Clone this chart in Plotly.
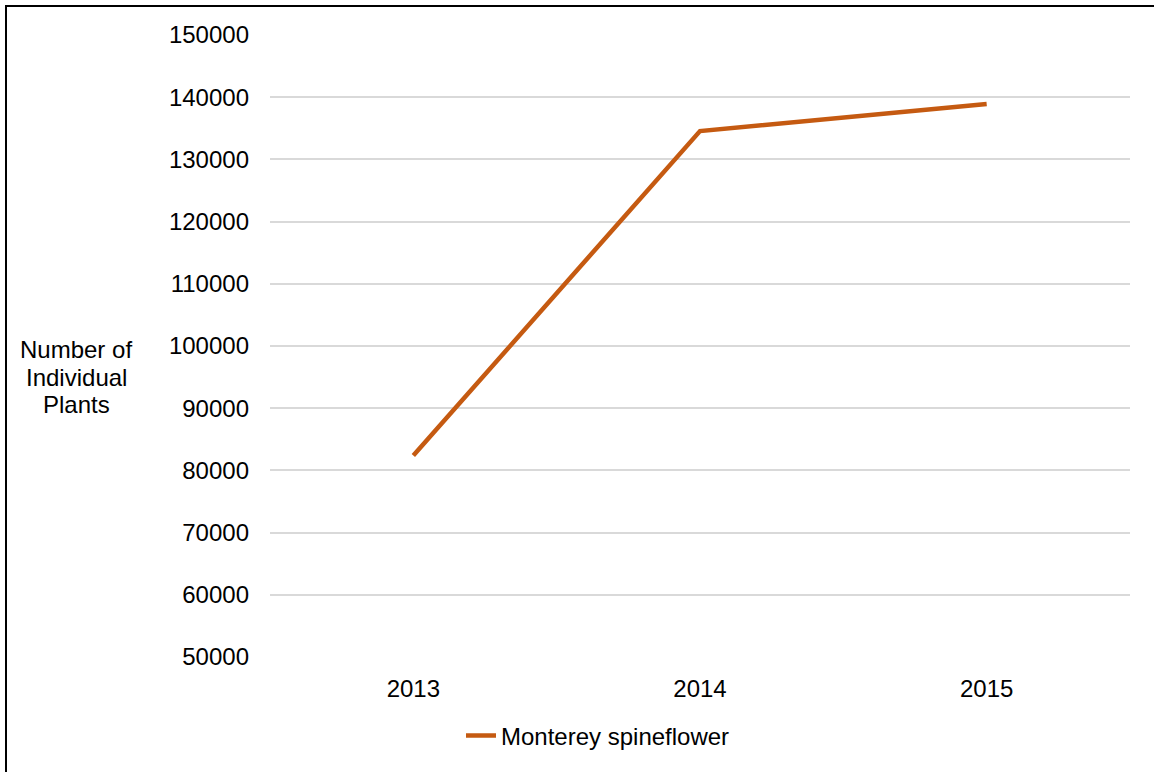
import plotly.graph_objects as go

years = ["2013", "2014", "2015"]
plants = [82400, 134560, 138900]
series_name = "Monterey spineflower"
y_ticks = [50000, 60000, 70000, 80000, 90000, 100000, 110000, 120000, 130000, 140000, 150000]
y_title_lines = ["Number of", "Individual", "Plants"]

W, H = 1154, 772
L, R, T, B = 270, 24, 35, 115
pw, ph = W - L - R, H - T - B

def px_x(x):
    return (x - L) / pw

def px_y(y):
    return (H - B - y) / ph

font = "Liberation Sans, Arial, sans-serif"
fs = 24

fig = go.Figure()
fig.add_trace(go.Scatter(
    x=years, y=plants, mode="lines", name=series_name,
    line=dict(color="#C55A11", width=4.5),
))

annotations = []
for i, txt in enumerate(y_title_lines):
    annotations.append(dict(
        text=txt, xref="paper", yref="paper",
        x=px_x(76), y=px_y(350 + 27.3 * i), xanchor="center", yanchor="middle",
        showarrow=False, align="center", font=dict(size=fs, family=font),
    ))

fig.update_layout(
    width=W, height=H,
    margin=dict(l=L, r=R, t=T, b=B),
    paper_bgcolor="white", plot_bgcolor="white",
    font=dict(family=font, size=fs, color="black"),
    showlegend=True,
    legend=dict(
        orientation="h", x=px_x(598), xanchor="center",
        y=px_y(736), yanchor="middle",
        font=dict(size=fs, family=font, color="black"),
        bgcolor="rgba(0,0,0,0)",
    ),
    xaxis=dict(
        type="category", range=[-0.5, 2.5], showgrid=False, zeroline=False,
        showline=False, ticks="", ticklabelstandoff=15, tickfont=dict(size=fs),
    ),
    yaxis=dict(
        range=[50000, 150000], tickvals=y_ticks,
        ticktext=[str(v) for v in y_ticks],
        showgrid=True, gridcolor="#D9D9D9", gridwidth=1.5,
        zeroline=False, showline=False, ticks="",
        ticklabelstandoff=20, tickfont=dict(size=fs),
    ),
    shapes=[dict(
        type="rect", xref="paper", yref="paper",
        x0=px_x(6), x1=px_x(W + 10), y0=px_y(H + 10), y1=px_y(6),
        line=dict(color="black", width=2), fillcolor="rgba(0,0,0,0)",
        layer="above",
    )],
    annotations=annotations,
)

fig.write_html(
    "out.html",
    config={"displayModeBar": False},
    post_script="document.body.style.margin='0';document.body.style.overflow='hidden';",
)
